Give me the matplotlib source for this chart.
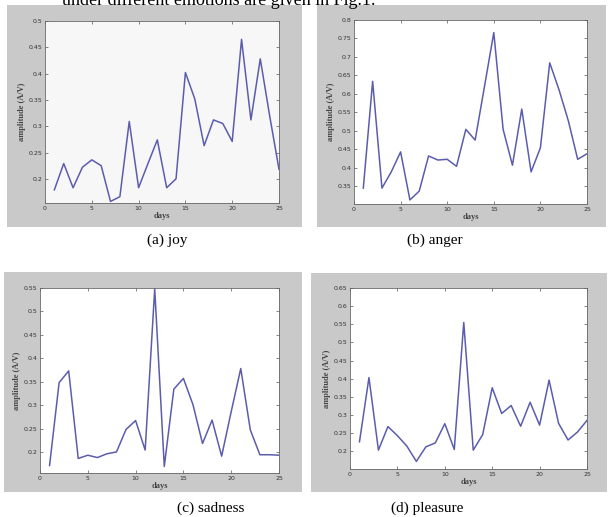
import matplotlib
matplotlib.use("Agg")
import matplotlib.pyplot as plt
from matplotlib.patches import Rectangle
import numpy as np

days = np.arange(1, 26)

joy = [0.179, 0.229, 0.183, 0.222, 0.236, 0.225, 0.157, 0.166, 0.309, 0.183,
       0.229, 0.274, 0.183, 0.200, 0.402, 0.352, 0.263, 0.312, 0.305, 0.271,
       0.465, 0.312, 0.428, 0.320, 0.218]
anger = [0.345, 0.634, 0.345, 0.389, 0.443, 0.313, 0.337, 0.432, 0.421, 0.423,
         0.404, 0.504, 0.475, 0.620, 0.766, 0.504, 0.407, 0.559, 0.389, 0.454,
         0.684, 0.611, 0.527, 0.423, 0.438]
sadness = [0.171, 0.348, 0.373, 0.186, 0.193, 0.188, 0.196, 0.200, 0.248, 0.267,
           0.204, 0.548, 0.169, 0.334, 0.357, 0.301, 0.218, 0.268, 0.191, 0.286,
           0.378, 0.247, 0.194, 0.194, 0.193]
pleasure = [0.226, 0.403, 0.203, 0.268, 0.243, 0.214, 0.172, 0.212, 0.223, 0.276,
            0.205, 0.555, 0.203, 0.246, 0.375, 0.304, 0.326, 0.269, 0.335, 0.272,
            0.396, 0.277, 0.231, 0.253, 0.285]

captions = ["(a) joy", "(b) anger", "(c) sadness", "(d) pleasure"]
series = [joy, anger, sadness, pleasure]
ylims = [(0.154, 0.5), (0.302, 0.8), (0.155, 0.55), (0.151, 0.65)]
yticks = [np.arange(0.2, 0.501, 0.05), np.arange(0.35, 0.801, 0.05),
          np.arange(0.2, 0.551, 0.05), np.arange(0.2, 0.651, 0.05)]

W, H = 608, 517
fig = plt.figure(figsize=(W / 100, H / 100), dpi=100)
fig.patch.set_facecolor("white")


def box(x0, y0, x1, y1):
    # pixel box (top-left origin) -> figure fraction
    return [x0 / W, 1 - y1 / H, (x1 - x0) / W, (y1 - y0) / H]


panels = [(7, 5, 302, 227), (317, 5, 606, 227), (4, 272, 302, 492), (311, 273, 607, 492)]
axboxes = [(45, 21, 279, 203), (354, 20, 587, 204), (40, 288, 279, 473), (350, 288, 587, 469)]
caps = [(167, 240), (435, 240), (211, 508), (427, 508)]
faces = ["#f7f7f7", "white", "white", "white"]

for i in range(4):
    px = box(*panels[i])
    fig.add_artist(Rectangle((px[0], px[1]), px[2], px[3], transform=fig.transFigure,
                             facecolor="#c9c9c9", edgecolor="none", zorder=0))
    ax = fig.add_axes(box(*axboxes[i]))
    ax.set_facecolor(faces[i])
    ax.plot(days, series[i], color="#5c5cae", lw=1.1)
    ax.set_xlim(0, 25)
    ax.set_ylim(*ylims[i])
    ax.set_xticks([0, 5, 10, 15, 20, 25])
    ax.set_yticks(yticks[i])
    ax.set_yticklabels(["%g" % round(v, 2) for v in yticks[i]])
    ax.tick_params(direction="in", length=2, width=0.5, labelsize=4.5, pad=2,
                   top=True, right=True, colors="#555555", labelcolor="#333333")
    for s in ax.spines.values():
        s.set_linewidth(0.6)
        s.set_color("#666666")
    ax.set_xlabel("days", family="Liberation Serif", weight="bold", fontsize=6,
                  color="#444444", labelpad=1)
    ax.set_ylabel("amplitude (A/V)", family="Liberation Serif", weight="bold",
                  fontsize=6, color="#444444", labelpad=2)
    fig.text(caps[i][0] / W, 1 - caps[i][1] / H, captions[i], family="Liberation Serif",
             fontsize=11, ha="center", va="center")

# cut-off line of body text above the figure
fig.text(62 / W, 1 - 5 / H, "under different emotions are given in Fig.1.",
         family="Liberation Serif", fontsize=13, ha="left", va="baseline")

fig.savefig("out.png", dpi=100)
